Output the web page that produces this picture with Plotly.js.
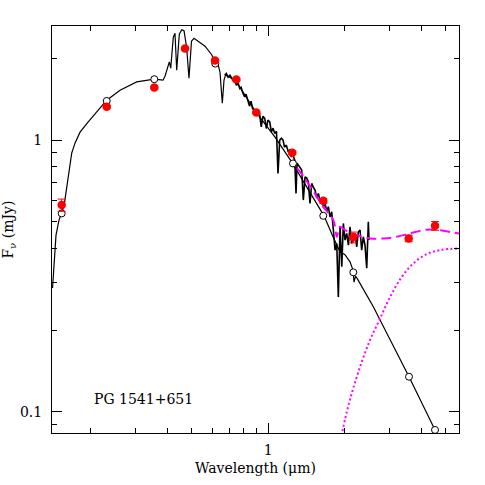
<!DOCTYPE html>
<html>
<head>
<meta charset="utf-8">
<script src="https://cdn.plot.ly/plotly-3.0.1.min.js"></script>
<style>html,body{margin:0;padding:0;background:#fff;}#chart{width:485px;height:485px;}</style>
</head>
<body>
<div id="chart"></div>
<script>
// White dwarf model (black solid)
const modelWave = [0.1411,0.1430,0.1456,0.1496,0.1533,0.1566,0.1595,0.1628,0.1679,0.1730,0.1811,0.1947,0.2113,0.2307,0.2603,0.3029,0.3553,0.3846,0.3916,0.3977,0.4072,0.4124,0.4222,0.4287,0.4354,0.4458,0.4557,0.4653,0.4769,0.4867,0.4980,0.5094,0.5297,0.5630,0.5981,0.6181,0.6353,0.6451,0.6587,0.6689,0.6781,0.6938,0.7458,0.8943,1.0627,1.2435,1.4337,1.6582,1.8043,1.8657,1.9168,2.0057,2.0989,2.1572,2.1767,2.2065,2.2367,2.5937,3.586,4.541,4.752];
const modelFlux = [0.2857,0.3621,0.4474,0.5081,0.5390,0.5719,0.6437,0.7437,0.8957,0.9749,1.070,1.165,1.278,1.403,1.527,1.638,1.676,1.662,1.719,1.808,1.941,1.839,2.391,2.474,1.808,2.453,2.549,2.527,2.179,1.690,2.312,2.371,2.312,2.216,2.062,1.935,1.887,1.778,1.368,1.662,1.734,1.719,1.648,1.267,1.026,0.8252,0.6606,0.5268,0.4387,0.4076,0.3884,0.3793,0.3569,0.3326,0.3005,0.3162,0.3109,0.2438,0.1348,0.0859,0.0782];

// Observed spectrum (black noisy)
const specWave = [0.673,0.683,0.694,0.706,0.726,0.736,0.748,0.760,0.772,0.781,0.795,0.807,0.817,0.832,0.843,0.855,0.866,0.884,0.894,0.911,0.923,0.938,0.953,0.968,0.982,0.997,1.013,1.028,1.044,1.060,1.077,1.092,1.109,1.127,1.143,1.158,1.178,1.196,1.214,1.232,1.251,1.271,1.286,1.298,1.313,1.334,1.354,1.374,1.396,1.417,1.438,1.460,1.483,1.505,1.528,1.552,1.575,1.599,1.624,1.648,1.673,1.700,1.724,1.751,1.778,1.805,1.833,1.861,1.888,1.918,1.948,1.976,2.007,2.038,2.068,2.099,2.132,2.163,2.197,2.231,2.263,2.299,2.334,2.369,2.405,2.443,2.479,2.494];
const specFlux = [1.734,1.759,1.705,1.734,1.662,1.690,1.593,1.620,1.549,1.566,1.485,1.442,1.476,1.403,1.334,1.391,1.311,1.271,1.289,1.236,1.257,1.119,1.225,1.202,1.104,1.185,1.168,1.073,1.107,1.058,1.079,0.754,1.000,1.017,1.000,0.943,0.959,0.911,0.919,0.868,0.881,0.844,0.637,0.823,0.809,0.789,0.776,0.602,0.733,0.725,0.703,0.585,0.693,0.672,0.655,0.612,0.637,0.597,0.602,0.567,0.585,0.548,0.569,0.522,0.545,0.467,0.394,0.417,0.265,0.480,0.342,0.494,0.429,0.454,0.411,0.480,0.417,0.444,0.454,0.405,0.459,0.467,0.394,0.441,0.411,0.338,0.501,0.429];

// Composite model (magenta dashed)
const compWave = [1.2977,1.3335,1.4604,1.6478,1.8045,1.8611,1.8883,1.9177,2.0068,2.2307,2.5170,2.8403,3.2078,3.6183,4.0829,4.4708,4.8952,5.6457];
const compFlux = [0.7888,0.7647,0.6776,0.5685,0.5081,0.4410,0.4629,0.4800,0.4668,0.4474,0.4351,0.4351,0.4410,0.4539,0.4668,0.4695,0.4640,0.4532];

// Dust component (magenta dotted)
const diskWave = [1.9264,2.038,2.1629,2.3344,2.517,2.7389,3.0181,3.3565,3.7283,4.2108,4.7506,5.6457];
const diskFlux = [0.0789,0.1000,0.1225,0.1527,0.1839,0.2179,0.2647,0.3136,0.3521,0.3810,0.3940,0.3997];

// Observed photometry (red)
const photWave = [0.1533,0.2307,0.3553,0.4695,0.6165,0.748,0.897,1.243,1.647,2.163,3.576,4.541];
const photFlux = [0.577,1.326,1.562,2.174,1.963,1.672,1.264,0.899,0.598,0.439,0.435,0.484];
const photErr  = [0.030,0.015,0.015,0.020,0.015,0.015,0.012,0.012,0.012,0.020,0.012,0.018];

// Synthetic model photometry (open circles)
const synWave = [0.1533,0.2307,0.3553,0.618,1.251,1.647,2.163,3.586,4.541];
const synFlux = [0.5377,1.394,1.676,1.913,0.821,0.527,0.3264,0.1348,0.0859];

const xMajor = [1];
const xMajorText = ['1'];
const xMinor = [0.2,0.3,0.4,0.5,0.6,0.7,0.8,0.9,2,3,4,5];
const yMajor = [0.1,1];
const yMajorText = ['0.1','1'];
const yMinor = [0.09,0.2,0.3,0.4,0.5,0.6,0.7,0.8,0.9,2];

const FONT = 'DejaVu Serif';

const traces = [
  {x: modelWave, y: modelFlux, mode:'lines', line:{color:'#000', width:1.2}, hoverinfo:'skip'},
  {x: specWave, y: specFlux, mode:'lines', line:{color:'#000', width:1.6}, hoverinfo:'skip'},
  {x: compWave, y: compFlux, mode:'lines', line:{color:'#ff00ff', width:2, dash:'10px,5px', shape:'spline'}, hoverinfo:'skip'},
  {x: diskWave, y: diskFlux, mode:'lines', line:{color:'#ff00ff', width:2, dash:'2px,2.5px', shape:'spline'}, hoverinfo:'skip'},
  {x: synWave, y: synFlux, mode:'markers', marker:{symbol:'circle', size:7, color:'#fff', line:{color:'#000', width:1}}, hoverinfo:'skip'},
  {x: photWave, y: photFlux, mode:'markers', marker:{symbol:'circle', size:8.5, color:'#ff0000'},
   error_y:{type:'data', array: photErr, color:'#ff0000', thickness:1, width:4}, hoverinfo:'skip'}
];

const axBase = {
  type:'log', showgrid:false, zeroline:false, showline:true, linecolor:'#000', linewidth:1,
  mirror:'ticks', ticks:'inside', ticklen:10, tickwidth:1, tickcolor:'#000',
  tickmode:'array', tickfont:{family:FONT, size:14, color:'#000'}
};

const layout = {
  width:485, height:485,
  margin:{l:52, r:26, t:26, b:52, pad:0},
  paper_bgcolor:'#fff', plot_bgcolor:'#fff',
  showlegend:false,
  font:{family:FONT, color:'#000'},
  xaxis: Object.assign({}, axBase, {
    range:[Math.log10(0.1404), Math.log10(5.645)],
    tickvals:xMajor, ticktext:xMajorText,
    minor:{tickmode:'array', tickvals:xMinor, ticks:'inside', ticklen:5, tickwidth:1, tickcolor:'#000'},
    ticklabelstandoff:4,
    title:{text:'Wavelength (μm)', font:{family:FONT, size:14, color:'#000'}, standoff:6}
  }),
  yaxis: Object.assign({}, axBase, {
    range:[Math.log10(0.0837), Math.log10(2.63)],
    tickvals:yMajor, ticktext:yMajorText,
    minor:{tickmode:'array', tickvals:yMinor, ticks:'inside', ticklen:5, tickwidth:1, tickcolor:'#000'},
    ticklabelstandoff:6,
    title:{text:'F<sub>ν</sub> (mJy)', font:{family:FONT, size:14, color:'#000'}, standoff:8}
  }),
  annotations:[
    {text:'PG 1541+651', xref:'paper', yref:'paper', x:0.0975, y:0.0835, xanchor:'left', yanchor:'middle',
     showarrow:false, font:{family:FONT, size:14, color:'#000'}}
  ]
};

Plotly.newPlot('chart', traces, layout, {staticPlot:true, displayModeBar:false});
</script>
</body>
</html>
